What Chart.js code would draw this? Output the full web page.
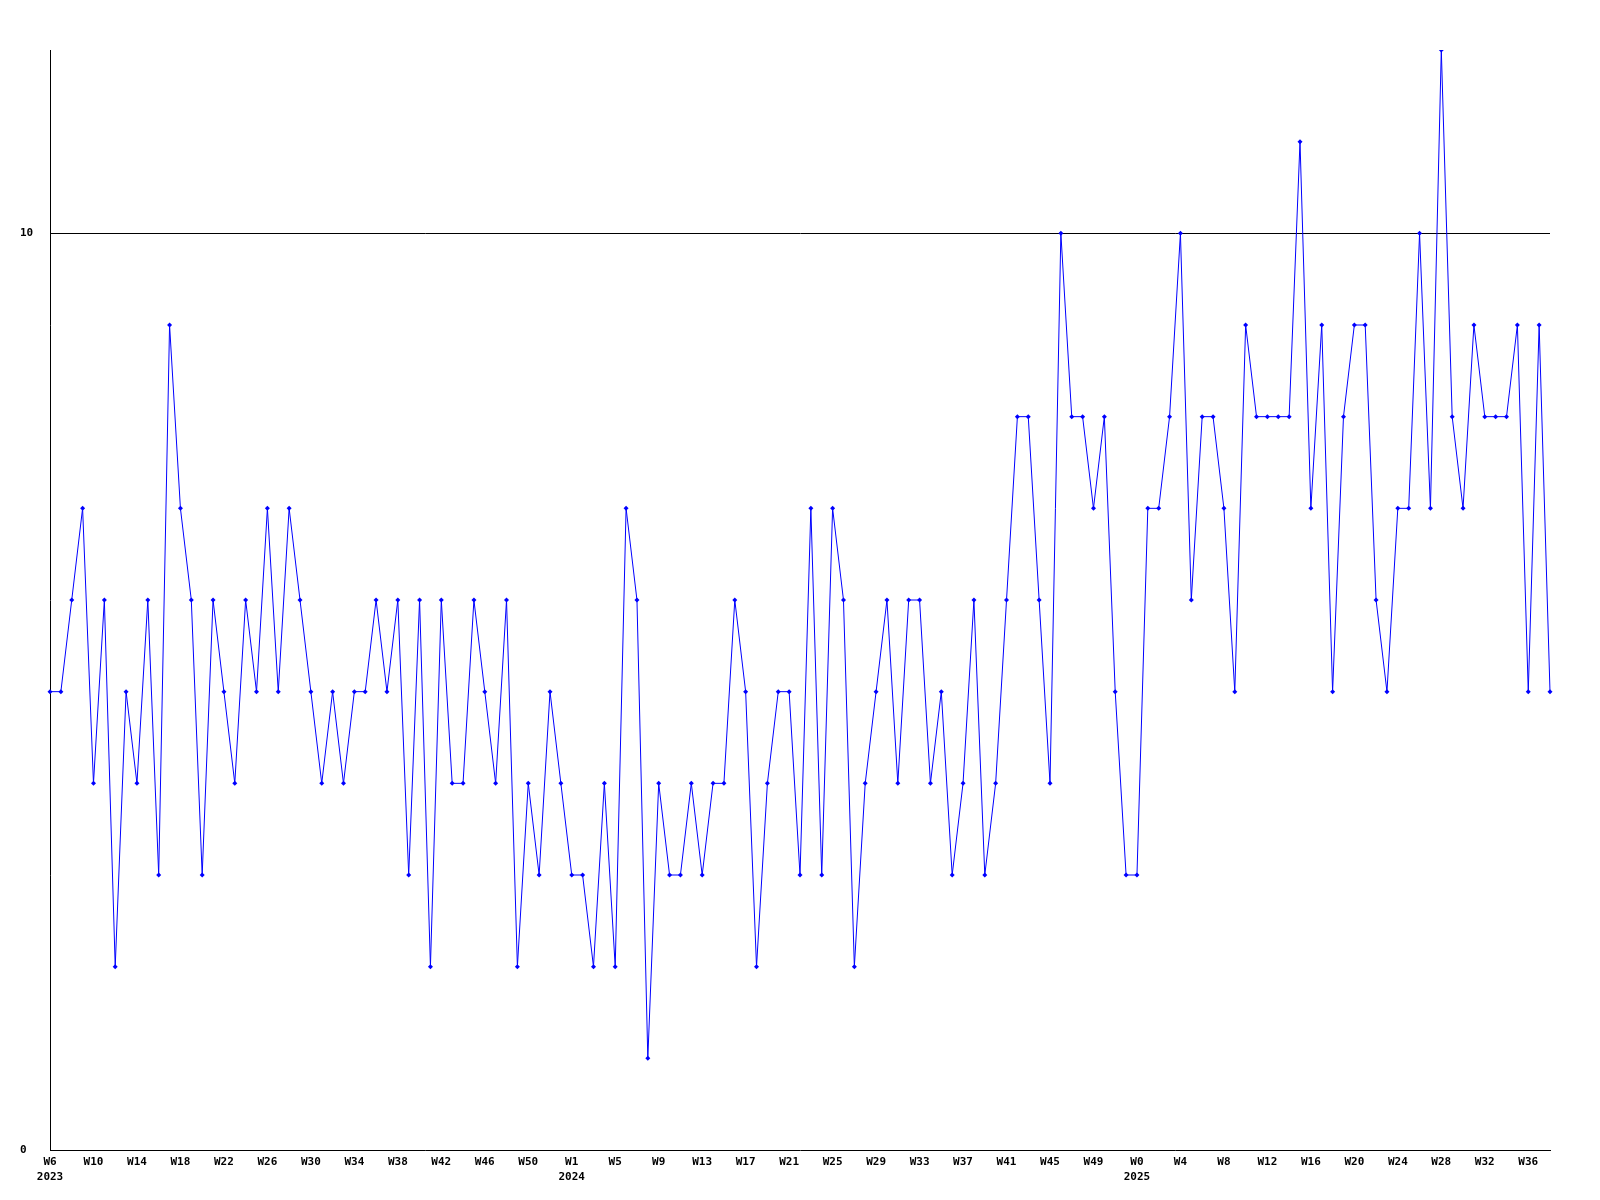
<!DOCTYPE html>
<html lang="en">
<head>
<meta charset="UTF-8">
<title>Weekly count</title>
<script src="https://cdn.jsdelivr.net/npm/chart.js@4.4.1/dist/chart.umd.min.js"></script>
<style>
  html, body { margin: 0; padding: 0; background: #fff; }
  #wrap { width: 1600px; height: 1200px; }
</style>
</head>
<body>
<div id="wrap"><canvas id="weekChart"></canvas></div>
<script>
// week numbers, one per point
var weeks2023 = ['W6','W7','W8','W9','W10','W11','W12','W13','W14','W15','W16','W17','W18','W19','W20','W21','W22','W23','W24','W25','W26','W27','W28','W29','W30','W31','W32','W33','W34','W35','W36','W37','W38','W39','W40','W41','W42','W43','W44','W45','W46','W47','W48','W49','W50','W51','W52'];
var weeks2024 = ['W0','W1','W2','W3','W4','W5','W6','W7','W8','W9','W10','W11','W12','W13','W14','W15','W16','W17','W18','W19','W20','W21','W22','W23','W24','W25','W26','W27','W28','W29','W30','W31','W32','W33','W34','W35','W36','W37','W38','W39','W40','W41','W42','W43','W44','W45','W46','W47','W48','W49','W50','W51','W52'];
var weeks2025 = ['W0','W1','W2','W3','W4','W5','W6','W7','W8','W9','W10','W11','W12','W13','W14','W15','W16','W17','W18','W19','W20','W21','W22','W23','W24','W25','W26','W27','W28','W29','W30','W31','W32','W33','W34','W35','W36','W37','W38'];

// values per week
var counts2023 = [5,5,6,7,4,6,2,5,4,6,3,9,7,6,3,6,5,4,6,5,7,5,7,6,5,4,5,4,5,5,6,5,6,3,6,2,6,4,4,6,5,4,6,2,4,3,5];
var counts2024 = [4,3,3,2,4,2,7,6,1,4,3,3,4,3,4,4,6,5,2,4,5,5,3,7,3,7,6,2,4,5,6,4,6,6,4,5,3,4,6,3,4,6,8,8,6,4,10,8,8,7,8,5,3];
var counts2025 = [3,7,7,8,10,6,8,8,7,5,9,8,8,8,8,11,7,9,5,8,9,9,6,5,7,7,10,7,12,8,7,9,8,8,8,9,5,9,5];

// year shown under the first printed label of each year
var years = ['2023', '2024', '2025'];
var yearTickIndex = [0, 48, 100];

var yTicks = [0, 10];

var labels = weeks2023.concat(weeks2024, weeks2025);
var counts = counts2023.concat(counts2024, counts2025);

var tickFont = { family: "'DejaVu Sans Mono', 'Liberation Mono', monospace", size: 11, weight: 'bold', lineHeight: 1.36 };

var ctx = document.getElementById('weekChart').getContext('2d');
var chart = new Chart(ctx, {
    type: 'line',
    data: {
        labels: labels,
        datasets: [{
            data: counts,
            borderColor: '#0000ff',
            backgroundColor: '#0000ff',
            borderWidth: 1,
            tension: 0,
            pointStyle: 'rectRot',
            pointRadius: 2.5,
            pointBorderWidth: 0,
            pointBackgroundColor: '#0000ff'
        }]
    },
    options: {
        responsive: true,
        maintainAspectRatio: false,
        animation: false,
        layout: { padding: { left: 20, top: 50, right: 50, bottom: 0 } },
        plugins: {
            legend: { display: false },
            tooltip: { enabled: false }
        },
        scales: {
            x: {
                grid: { display: false, drawTicks: false },
                border: { display: true, color: '#000', width: 1 },
                ticks: {
                    autoSkip: false,
                    maxRotation: 0,
                    padding: 5,
                    color: '#000',
                    font: tickFont,
                    callback: function (value, index) {
                        if (index % 4 !== 0) return null;
                        var k = yearTickIndex.indexOf(index);
                        return k >= 0 ? [labels[index], years[k]] : labels[index];
                    }
                },
                afterFit: function (scale) { scale.height = 50; }
            },
            y: {
                min: 0,
                max: 12,
                afterBuildTicks: function (scale) {
                    scale.ticks = yTicks.map(function (v) { return { value: v }; });
                },
                grid: {
                    drawTicks: false,
                    lineWidth: 1,
                    color: function (c) {
                        return c.tick && c.tick.value === 10 ? '#000' : 'rgba(0,0,0,0)';
                    }
                },
                border: { display: true, color: '#000', width: 1 },
                ticks: {
                    crossAlign: 'far',
                    padding: 0,
                    color: '#000',
                    font: tickFont
                },
                afterFit: function (scale) { scale.width = 30; }
            }
        }
    }
});
</script>
</body>
</html>
